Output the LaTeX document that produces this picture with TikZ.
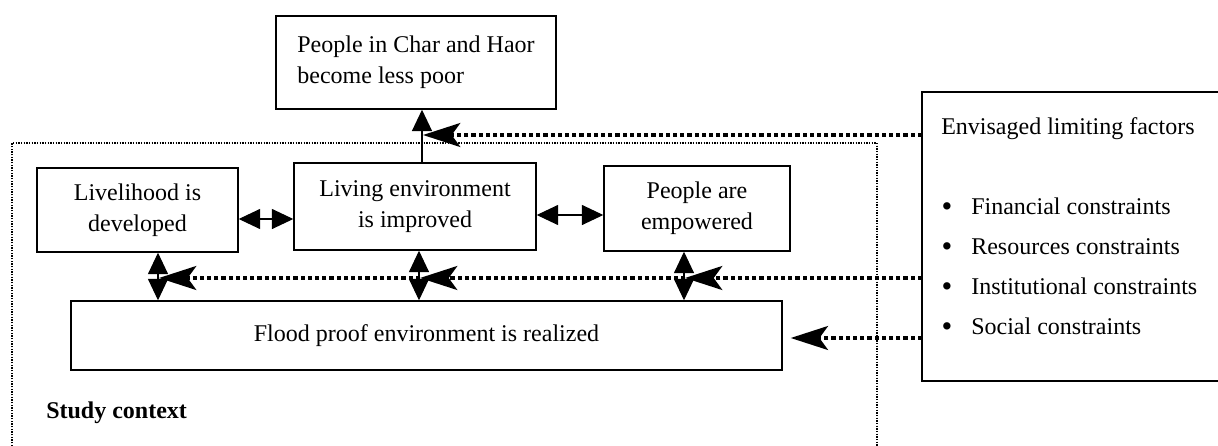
\documentclass[tikz,border=0pt]{standalone}
\usepackage{fontspec}
\setmainfont{Liberation Serif}
\usetikzlibrary{arrows.meta}
\begin{document}
\begin{tikzpicture}[x=0.75pt,y=-0.75pt,
  box/.style={draw, line width=1.1pt, inner sep=0pt, align=center, font=\fontsize{18}{23.5}\selectfont},
  txt/.style={inner sep=0pt, font=\fontsize{18}{23.5}\selectfont},
  bul/.style={inner sep=0pt, font=\fontsize{23}{23}\selectfont},
  border/.style={line width=0.9pt, dash pattern=on 1pt off 1pt},
  dotarrow/.style={line width=2.3pt, dash pattern=on 3.2pt off 2.2pt, -{Stealth[length=28pt,width=18pt,inset=6.5pt]}},
  dblarrow/.style={line width=0.8pt, {Triangle[length=16pt,width=15pt]}-{Triangle[length=16pt,width=15pt]}},
  uparrow/.style={line width=1pt, -{Triangle[length=16pt,width=15pt]}}]
\useasboundingbox (0,0) rectangle (1218,446);

% study context frame
\draw[border] (12,446) -- (12,143) -- (877,143) -- (877,446);
\node[txt, font=\fontsize{18}{23.5}\selectfont\bfseries, anchor=base west] (sc) at (46,418) {Study context};

% boxes
\node[box, align=left, minimum width=210pt, minimum height=69.75pt] (goal) at (416,62.5) {People in Char and Haor\\become less poor};
\node[box, minimum width=150.75pt, minimum height=63pt] (liv) at (137.5,210) {Livelihood is\\developed};
\node[box, minimum width=181.5pt, minimum height=65.25pt] (env) at (415,206.5) {Living environment\\is improved};
\node[box, minimum width=139.5pt, minimum height=63.75pt] (emp) at (697,208.5) {People are\\empowered};
\node[box, minimum width=533.25pt, minimum height=51.75pt] (flood) at (426.5,335.5) {Flood proof environment is realized};

% limiting factors box (extends beyond the right edge)
\draw[line width=1.1pt] (1218,92) -- (922,92) -- (922,381) -- (1218,381);
\node[txt, anchor=base west] (lim) at (941,134) {Envisaged limiting factors};
\foreach \y/\t/\n in {214/Financial constraints/f1, 254/Resources constraints/f2, 294/Institutional constraints/f3, 334/Social constraints/f4}{
  \node[bul, anchor=base] (b\n) at (947,\y+2) {•};
  \node[txt, anchor=base west] (\n) at (971,\y) {\t};
}

% helper coordinates
\coordinate (xa) at (422,0);
\coordinate (h1) at (0,219);
\coordinate (h2) at (0,215);
\coordinate (v1) at (158,0);
\coordinate (v2) at (419,0);
\coordinate (v3) at (684,0);
\coordinate (lA) at (922,135);
\coordinate (lB) at (922,278);
\coordinate (lC) at (922,338);
\coordinate (tA) at (423,135);
\coordinate (t1) at (685,278);
\coordinate (t2) at (420,278);
\coordinate (t3) at (159,278);

% solid connectors
\draw[uparrow] (env.north -| xa) -- (goal.south -| xa);
\draw[dblarrow] (liv.east |- h1) -- (env.west |- h1);
\draw[dblarrow] (env.east |- h2) -- (emp.west |- h2);
\draw[dblarrow] (liv.south -| v1) -- (flood.north -| v1);
\draw[dblarrow] (env.south -| v2) -- (flood.north -| v2);
\draw[dblarrow] (emp.south -| v3) -- (flood.north -| v3);

% dotted connectors from limiting factors
\draw[dotarrow] (lA) -- (tA);
\draw[dotarrow] (lB) -- (t1);
\draw[dotarrow] (t1) -- (t2);
\draw[dotarrow] (t2) -- (t3);
\draw[dotarrow, shorten >=6pt] (lC) -- (flood.east |- lC);
\end{tikzpicture}
\end{document}
